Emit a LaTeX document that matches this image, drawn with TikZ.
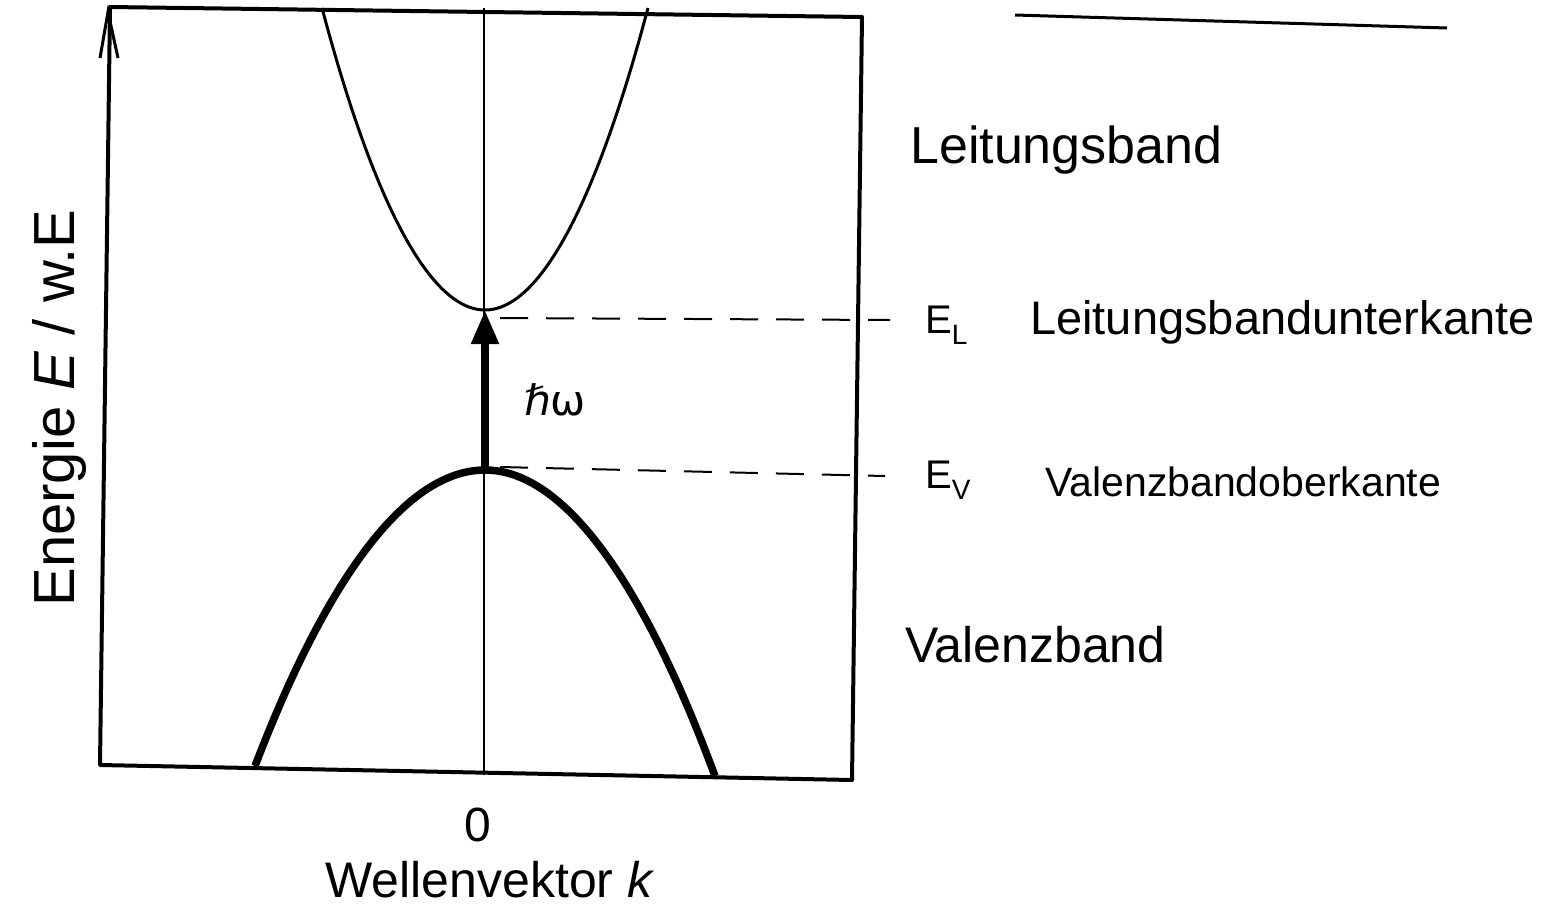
\documentclass[tikz,border=0pt]{standalone}
\usepackage{fontspec}
\setmainfont{Liberation Sans}
\newfontfamily\symfont{DejaVu Sans}
\usetikzlibrary{arrows.meta}
\newcommand{\fsz}[1]{\fontsize{#1}{#1}\selectfont}
\begin{document}
\begin{tikzpicture}[x=1pt,y=-1pt,
  lbl/.style={inner sep=0pt,font=\fsz{40}},
  frame/.style={line width=4pt,line join=round},
  thinband/.style={line width=3pt},
  thickband/.style={line width=7.5pt},
  level/.style={line width=2pt,dash pattern=on 28pt off 18pt}]
\useasboundingbox (0,0) rectangle (1543,922);
% frame
\coordinate (tl) at (110,7);
\coordinate (tr) at (862,17);
\coordinate (br) at (852,780);
\coordinate (bl) at (100,765);
\draw[frame] (tl) -- (tr) -- (br) -- (bl) -- cycle;
% small arrow tip at top of energy axis
\draw[line width=3pt] (100,58) -- (108,12) -- (118,58);
% k = 0 axis
\coordinate (ktop) at (484,8);
\coordinate (kbot) at (484,775);
\draw[line width=2.5pt] (ktop) -- (kbot);
% conduction band
\coordinate (cmin) at (485,310);
\draw[thinband] (322,8) parabola bend (cmin) (648,8);
% valence band
\coordinate (vmax) at (485,470);
\draw[thickband] (255,766) parabola bend (vmax) (715,776);
% transition arrow
\draw[line width=8pt,-{Triangle[length=34pt,width=26pt]}] (vmax) -- (cmin);
\node[lbl,font=\symfont\fsz{42}] (hw) at (555,400) {ℏω};
% level lines
\coordinate (elend) at (890,320);
\coordinate (evend) at (885,476);
\draw[level] (500,318) -- (elend);
\draw[level] (500,467) -- (evend);
% labels
\node[lbl,anchor=west,font=\fsz{52}] (lb) at (910,150) {Leitungsband};
\node[lbl,anchor=west] (EL) at (925,325) {E\textsubscript{L}};
\node[lbl,anchor=west,font=\fsz{47}] (lbu) at (1030,322) {Leitungsbandunterkante};
\node[lbl,anchor=west] (EV) at (925,480) {E\textsubscript{V}};
\node[lbl,anchor=west,font=\fsz{41}] (vbo) at (1045,482) {Valenzbandoberkante};
\node[lbl,anchor=west,font=\fsz{50}] (vb) at (905,645) {Valenzband};
\node[lbl,font=\fsz{48}] (zero) at (478,825) {0};
\node[lbl,font=\fsz{50}] (wk) at (490,880) {Wellenvektor \textit{k}};
\node[lbl,rotate=90,font=\fsz{58}] (en) at (60,408) {Energie \textit{E} / w.E};
% top right line
\coordinate (ra) at (1015,15);
\coordinate (rb) at (1447,28);
\draw[line width=3pt] (ra) -- (rb);
\end{tikzpicture}
\end{document}
